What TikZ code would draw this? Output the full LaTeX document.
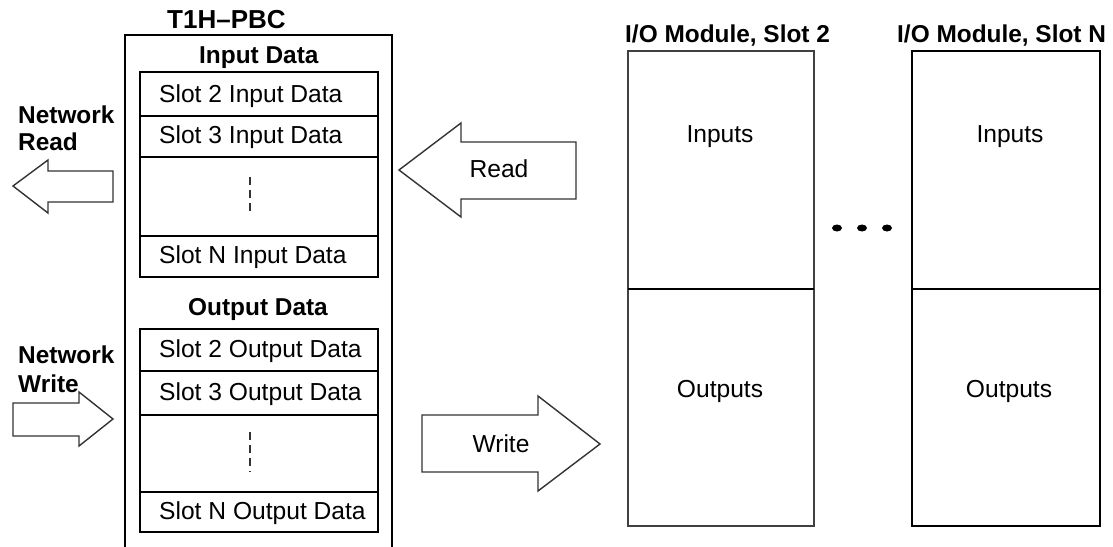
\documentclass[tikz,border=0pt]{standalone}
\usepackage{fontspec}
\setmainfont{Liberation Sans}
\begin{document}
\begin{tikzpicture}[x=1pt,y=-1pt,
  txt/.style={inner sep=0pt,font=\fontsize{24.6}{28}\selectfont},
  btxt/.style={inner sep=0pt,font=\fontsize{24.4}{28}\selectfont\bfseries},
  frame/.style={draw=black,line width=1.4pt},
  blockarrow/.style={draw=black!80,line width=1.4pt,line join=miter,fill=white},
  vdots/.style={draw=black!80,line width=1.1pt,dash pattern=on 8pt off 5pt}
]
\useasboundingbox (0,0) rectangle (1113,546);
\clip (0,0) rectangle (1113,546);
\fill[white] (0,0) rectangle (1113,546);

% T1H-PBC outer box
\draw[frame] (125,560) -- (125,35) -- (392,35) -- (392,560);
\node[btxt,anchor=base west,font=\fontsize{26}{30}\selectfont\bfseries] (title) at (167,28) {T1H–PBC};

% Input data block
\node[btxt,anchor=base west] (inhead) at (199,63) {Input Data};
\draw[frame] (140,72) rectangle (378,277);
\draw[frame] (140,116) -- (378,116);
\draw[frame] (140,157) -- (378,157);
\draw[frame] (140,236) -- (378,236);
\node[txt,anchor=base west] (in2) at (159,102) {Slot 2 Input Data};
\node[txt,anchor=base west] (in3) at (159,143) {Slot 3 Input Data};
\node[txt,anchor=base west] (inN) at (159,263) {Slot N Input Data};
\draw[vdots] (250,177) -- (250,215);

% Output data block
\node[btxt,anchor=base west] (outhead) at (188,315) {Output Data};
\draw[frame] (140,329) rectangle (378,532);
\draw[frame] (140,371) -- (378,371);
\draw[frame] (140,415) -- (378,415);
\draw[frame] (140,492) -- (378,492);
\node[txt,anchor=base west] (out2) at (159,357) {Slot 2 Output Data};
\node[txt,anchor=base west] (out3) at (159,400) {Slot 3 Output Data};
\node[txt,anchor=base west] (outN) at (159,519) {Slot N Output Data};
\draw[vdots] (250,432) -- (250,472);

% Network Read
\node[btxt,anchor=base west] (nr1) at (18,123) {Network};
\node[btxt,anchor=base west] (nr2) at (18,150) {Read};
\draw[blockarrow] (13,186) -- (48,160) -- (48,171) -- (113,171) -- (113,202) -- (48,202) -- (48,213) -- cycle;

% Network Write
\draw[blockarrow] (13,403) -- (79,403) -- (79,392) -- (113,419) -- (79,446) -- (79,436) -- (13,436) -- cycle;
\node[btxt,anchor=base west] (nw1) at (18,363) {Network};
\node[btxt,anchor=base west] (nw2) at (18,392) {Write};

% Read arrow
\draw[blockarrow] (399,170) -- (461,123) -- (461,142) -- (576,142) -- (576,199) -- (461,199) -- (461,217) -- cycle;
\node[txt,anchor=base] (read) at (499,177) {Read};

% Write arrow
\draw[blockarrow] (422,415) -- (538,415) -- (538,396) -- (600,444) -- (538,491) -- (538,472) -- (422,472) -- cycle;
\node[txt,anchor=base] (write) at (501,452) {Write};

% I/O Module Slot 2
\node[btxt,anchor=base west] (m2title) at (625,42) {I/O Module, Slot 2};
\draw[frame,draw=black!75] (628,51) rectangle (814,526);
\draw[frame] (628,289) -- (814,289);
\node[txt,anchor=base] (m2in) at (720,142) {Inputs};
\node[txt,anchor=base] (m2out) at (720,397) {Outputs};

% I/O Module Slot N
\node[btxt,anchor=base west] (mNtitle) at (897,42) {I/O Module, Slot N};
\draw[frame] (912,51) rectangle (1100,526);
\draw[frame] (912,289) -- (1100,289);
\node[txt,anchor=base] (mNin) at (1010,142) {Inputs};
\node[txt,anchor=base] (mNout) at (1009,397) {Outputs};

% ellipsis dots
\fill (837,228) ellipse [x radius=5pt,y radius=3.5pt];
\fill (862,228) ellipse [x radius=5pt,y radius=3.5pt];
\fill (887,228) ellipse [x radius=5pt,y radius=3.5pt];
\end{tikzpicture}
\end{document}
